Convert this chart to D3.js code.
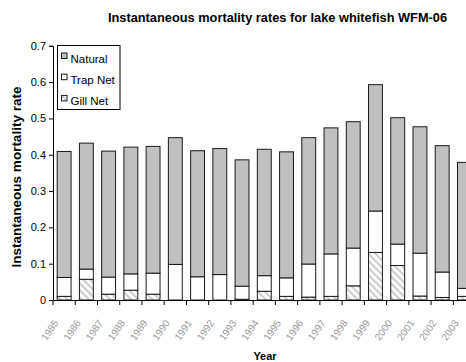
<!DOCTYPE html>
<html><head><meta charset="utf-8">
<script src="https://cdn.jsdelivr.net/npm/d3@7"></script>
<style>body{margin:0;background:#fff}svg{display:block;font-family:Arial,"Liberation Sans",sans-serif}</style>
</head><body><svg id="c" width="466" height="362"></svg>
<script>
const years = ["1985","1986","1987","1988","1989","1990","1991","1992","1993","1994","1995","1996","1997","1998","1999","2000","2001","2002","2003"];
const gillNet = [0.010,0.057,0.016,0.027,0.016,0.000,0.000,0.000,0.002,0.024,0.010,0.008,0.010,0.039,0.131,0.095,0.011,0.007,0.010];
const trapNet = [0.052,0.028,0.047,0.045,0.058,0.098,0.064,0.070,0.036,0.043,0.051,0.091,0.117,0.104,0.114,0.059,0.118,0.070,0.022];
const natural = [0.347,0.347,0.347,0.349,0.349,0.349,0.347,0.347,0.348,0.348,0.347,0.348,0.347,0.348,0.348,0.348,0.348,0.348,0.347];
const seriesNames = ["Gill Net","Trap Net","Natural"];
const yTicks = [0,0.1,0.2,0.3,0.4,0.5,0.6,0.7];

const svg = d3.select("#c");
const x0 = 53, plotW = 19*22.24;
const x = d3.scaleBand().domain(years).range([x0, x0+plotW]).paddingInner(0.375).paddingOuter(0.1875);
const y = d3.scaleLinear().domain([0,0.7]).range([300,45.8]);

const defs = svg.append("defs");
const pat = defs.append("pattern").attr("id","hatch").attr("patternUnits","userSpaceOnUse")
  .attr("width",5).attr("height",5).attr("patternTransform","rotate(-45)");
pat.append("rect").attr("width",5).attr("height",5).attr("fill","#fff");
pat.append("rect").attr("width",2.2).attr("height",5).attr("fill","#cfcfcf");

const fills = {"Gill Net":"url(#hatch)","Trap Net":"#fff","Natural":"#c0c0c0"};
const rows = years.map((yr,i)=>({year:yr,"Gill Net":gillNet[i],"Trap Net":trapNet[i],"Natural":natural[i]}));
const stack = d3.stack().keys(seriesNames)(rows);

// title
svg.append("text").attr("x",277.5).attr("y",22).attr("text-anchor","middle")
  .attr("font-weight","bold").attr("font-size",12.8).text("Instantaneous mortality rates for lake whitefish WFM-06");

// bars
stack.forEach(s=>{
  svg.append("g").selectAll("rect").data(s).join("rect")
    .attr("x",d=>x(d.data.year)).attr("width",x.bandwidth())
    .attr("y",d=>y(d[1])).attr("height",d=>Math.max(0,y(d[0])-y(d[1])))
    .attr("fill",fills[s.key]).attr("stroke","#1a1a1a").attr("stroke-width",1);
});

// y axis
const ya = svg.append("g").attr("transform",`translate(${x0},0)`)
  .call(d3.axisLeft(y).tickValues(yTicks).tickSize(4).tickPadding(3).tickFormat(d=>d===0?"0":d3.format(".1f")(d)));
ya.select(".domain").attr("stroke","#000");
ya.selectAll("text").attr("font-size",11).attr("font-family","Arial, Liberation Sans, sans-serif").attr("fill","#000");

// x axis line and boundary ticks
svg.append("line").attr("x1",x0).attr("x2",x0+plotW).attr("y1",300.5).attr("y2",300.5).attr("stroke","#000");
const bounds = d3.range(years.length+1).map(i=>x0 + i*x.step());
svg.append("g").selectAll("line").data(bounds).join("line")
  .attr("x1",d=>d).attr("x2",d=>d).attr("y1",300).attr("y2",305).attr("stroke","#000");

// x tick labels
svg.append("g").selectAll("text").data(years).join("text")
  .attr("transform",d=>`translate(${x(d)+x.bandwidth()/2-8},321) rotate(-55)`)
  .attr("text-anchor","end").attr("dy","0.35em").attr("font-size",10).attr("fill","#999").text(d=>d);

// axis titles
svg.append("text").attr("transform","translate(21,177) rotate(-90)").attr("text-anchor","middle")
  .attr("font-weight","bold").attr("font-size",13.5).text("Instantaneous mortality rate");
svg.append("text").attr("x",265).attr("y",360).attr("text-anchor","middle")
  .attr("font-weight","bold").attr("font-size",11).text("Year");

// legend
const lg = svg.append("g");
lg.append("rect").attr("x",57.5).attr("y",45.5).attr("width",62.5).attr("height",64).attr("fill","#fff").attr("stroke","#000");
const legendItems = ["Natural","Trap Net","Gill Net"];
legendItems.forEach((k,i)=>{
  const yy = 53 + i*21.2;
  lg.append("rect").attr("x",61.5).attr("y",yy).attr("width",5.5).attr("height",5.5)
    .attr("fill",fills[k]).attr("stroke","#1a1a1a");
  lg.append("text").attr("x",70.5).attr("y",yy+10).attr("font-size",11.5).text(k);
});
</script></body></html>
